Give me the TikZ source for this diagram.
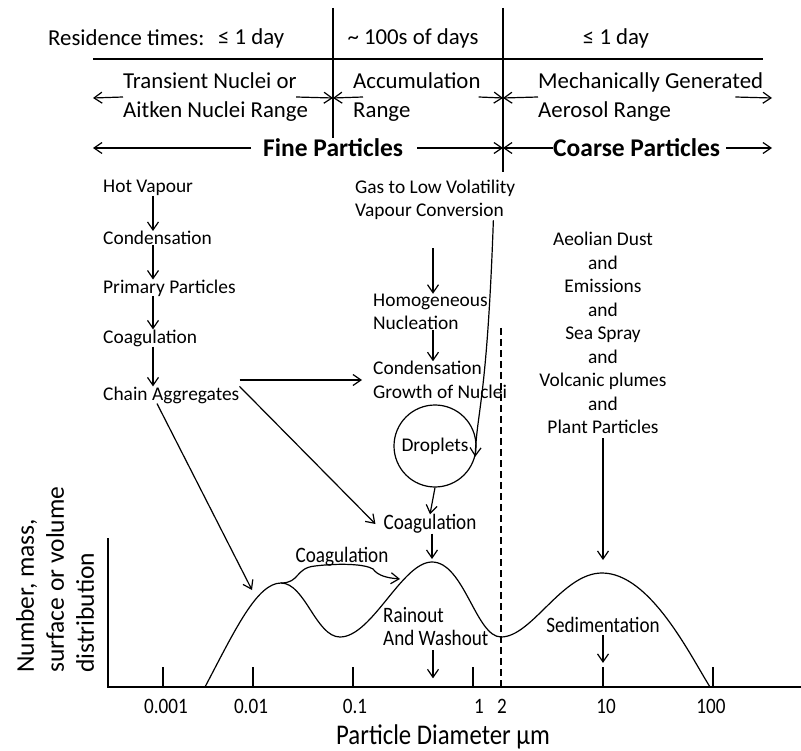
\documentclass[tikz,border=0pt]{standalone}
\usepackage{fontspec}
\setmainfont{Carlito}
\newfontfamily\narrowfont[FakeStretch=0.87]{Carlito}
\usetikzlibrary{positioning, arrows.meta}

\begin{document}
\begin{tikzpicture}[x=1pt, y=-1pt,
txt/.style={inner sep=0pt, font=\fontsize{19.4}{23.5}\selectfont},
hdr/.style={inner sep=0pt, font=\fontsize{22.8}{28.5}\selectfont},
big/.style={inner sep=0pt, font=\fontsize{25.5}{30}\selectfont\bfseries},
plt/.style={inner sep=0pt, font=\narrowfont\fontsize{22}{23}\selectfont},
arrow/.style={line width=1.2pt, -{Straight Barb[length=8pt, width=11pt]}},
line/.style={line width=1.2pt} ]

\useasboundingbox (0,0) rectangle (801,751);

% Header grid
\coordinate (d1top) at (333,8);
\coordinate (d1bot) at (333,138);
\coordinate (d2top) at (503,8);
\coordinate (d2bot) at (503,172);
\coordinate (hleft) at (93,59);
\coordinate (hright) at (763,59);
\draw[line] (d1top) -- (d1bot);
\draw[line] (d2top) -- (d2bot);
\draw[line] (hleft) -- (hright);

% Residence times
\node[hdr, anchor=west] (restimes) at (48,38) {Residence times:};
\node[hdr, anchor=west] (resfine) at (218,38) {≤ 1 day};
\node[hdr] (resaccum) at (413,38) {\textasciitilde\ 100s of days};
\node[hdr] (rescoarse) at (616,38) {≤ 1 day};

% Ranges
\coordinate (d1mid) at (333,98);
\coordinate (d2mid) at (503,98);
\coordinate (rowleft) at (93,98);
\coordinate (rowright) at (772,98);
\node[hdr, anchor=west, align=left] (aitken) at (123,97) {Transient Nuclei or\\Aitken Nuclei Range};
\node[hdr, anchor=west, align=left] (accum) at (353,97) {Accumulation\\Range};
\node[hdr, anchor=west, align=left] (mech) at (538,97) {Mechanically Generated\\Aerosol Range};
\draw[arrow] (aitken.west) -- (rowleft);
\draw[arrow] ([xshift=-12pt]aitken.east) -- (d1mid);
\draw[arrow] ([xshift=10pt]accum.west) -- (d1mid);
\draw[arrow] ([xshift=-2pt]accum.east) -- (d2mid);
\draw[arrow] (mech.west) -- (d2mid);
\draw[arrow] ([xshift=-28pt]mech.east) -- (rowright);

% Fine / coarse
\coordinate (d2low) at (503,148);
\coordinate (fineleft) at (93,148);
\coordinate (coarseright) at (772,148);
\node[big, anchor=west] (fine) at (263,148) {Fine Particles};
\node[big, anchor=west] (coarse) at (553,148) {Coarse Particles};
\draw[arrow] ([xshift=-12pt]fine.west) -- (fineleft);
\draw[arrow] ([xshift=14pt]fine.east) -- (d2low);
\draw[arrow] (coarse.west) -- (d2low);
\draw[arrow] ([xshift=6pt]coarse.east) -- (coarseright);

% Left column
\coordinate (lcol) at (153,0);
\node[txt, anchor=west] (hot) at (103,188) {Hot Vapour};
\node[txt, anchor=west] (cond) at (103,238) {Condensation};
\node[txt, anchor=west] (prim) at (103,288) {Primary Particles};
\node[txt, anchor=west] (coagleft) at (103,338) {Coagulation};
\node[txt, anchor=west] (chain) at (103,395) {Chain Aggregates};
\draw[arrow] (hot.south -| lcol) -- (cond.north -| lcol);
\draw[arrow] (cond.south -| lcol) -- (prim.north -| lcol);
\draw[arrow] (prim.south -| lcol) -- (coagleft.north -| lcol);
\draw[arrow] (coagleft.south -| lcol) -- (chain.north -| lcol);

% Middle column
\coordinate (mcol) at (433,0);
\node[txt, anchor=west, align=left] (gas) at (355,200) {Gas to Low Volatility\\Vapour Conversion};
\node[txt, anchor=west, align=left] (homog) at (373,312) {Homogeneous\\Nucleation};
\node[txt, anchor=west, align=left] (growth) at (373,380) {Condensation\\Growth of Nuclei};
\node[txt, draw, circle, line width=1.2pt, minimum size=82pt] (drop) at (435,446) {Droplets};
\node[plt] (coagmid) at (430,524) {Coagulation};
\draw[arrow] (gas.south -| mcol) ++(0,28) -- (homog.north -| mcol);
\draw[arrow] (homog.south -| mcol) -- (growth.north -| mcol);
\draw[arrow] ([xshift=-22pt]gas.south east) .. controls (487,400) and (477,410) .. (drop.-15);
\draw[arrow] (drop.south) -- (coagmid.north);
\draw[arrow] (chain.east |- growth.west) -- ([xshift=-11pt]growth.west);

% Right column
\node[txt, align=center] (aeolian) at (603,333) {Aeolian Dust\\and\\Emissions\\and\\Sea Spray\\and\\Volcanic plumes\\and\\Plant Particles};

% Axes
\coordinate (ytop) at (108,538);
\coordinate (origin) at (108,687);
\coordinate (xend) at (801,687);
\draw[line] (ytop) -- (origin) -- (xend);
\foreach \x/\lx/\lab [count=\i] in {163/166/0.001, 253/251/0.01, 353/355/0.1, 473/479/1, 603/606/10, 713/711/100} {
  \draw[line] (\x,667) -- (\x,687);
  \node[plt] (tick\i) at (\lx,706) {\lab};
}
\node[plt] (ticktwo) at (502,706) {2};
\node[plt, font=\narrowfont\fontsize{28.5}{30}\selectfont] (xtitle) at (443,737) {Particle Diameter µm};
\node[inner sep=0pt, rotate=90, anchor=west, align=left, font=\fontsize{25.5}{30}\selectfont] (ylab) at (55,673) {Number, mass,\\surface or volume\\distribution};

% Fine / coarse divide
\coordinate (dtop) at (501,328);
\coordinate (dbot) at (501,687);
\draw[line, dash pattern=on 7pt off 4pt] (dtop) -- (dbot);

% Distribution curve
\coordinate (cstart) at (205,687);
\coordinate (lpk) at (281,583);
\coordinate (lval) at (340,637);
\coordinate (mpk) at (432,562);
\coordinate (rval) at (501,637);
\coordinate (rpk) at (602,573);
\coordinate (cend) at (710,687);
\draw[line] (cstart) .. controls (235,630) and (257,583) .. (lpk)
  .. controls (305,583) and (316,637) .. (lval)
  .. controls (372,637) and (402,562) .. (mpk)
  .. controls (464,562) and (476,637) .. (rval)
  .. controls (532,637) and (562,573) .. (rpk)
  .. controls (650,573) and (690,655) .. (cend);

% Processes on the curve
\coordinate (lflank) at (252,590);
\coordinate (mflank) at (400,579);
\coordinate (mpktop) at (432,559);
\coordinate (rpktop) at (603,560);
\node[plt] (coagcurve) at (342,557) {Coagulation};
\node[plt, anchor=west, align=left] (rain) at (383,627) {Rainout\\And Washout};
\node[plt] (sed) at (603,625) {Sedimentation};
\draw[arrow] (chain.north east) -- ([xshift=-8pt]coagmid.west);
\draw[arrow] ([xshift=54pt]chain.south west) -- (lflank);
\draw[arrow] (coagmid.south -| mpk) -- (mpktop);
\draw[arrow] (aeolian.south) ++(0,4) -- (rpktop);
\draw[arrow] (lpk) .. controls (300,583) and (295,568) .. (315,566)
  .. controls (340,563) and (365,564) .. (373,569)
  .. controls (378,576) and (388,578) .. (mflank);
\draw[arrow] (rain.south -| mcol) ++(0,4) -- ++(0,28);
\draw[arrow] (sed.south) ++(0,2) -- ++(0,28);

\end{tikzpicture}
\end{document}
